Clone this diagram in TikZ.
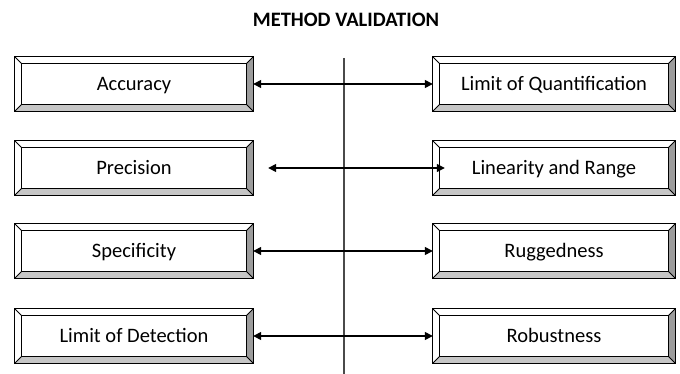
\documentclass[tikz,border=0pt]{standalone}
\usepackage{fontspec}
\setmainfont{Carlito}
\usetikzlibrary{arrows.meta}
\definecolor{bevelright}{HTML}{9C9C9C}
\definecolor{bevelbottom}{HTML}{C6C6C6}
\definecolor{midline}{HTML}{4A4A4A}
\tikzset{
  item/.style={minimum width=238pt,minimum height=54pt,inner sep=0pt},
  label/.style={font=\fontsize{20.5}{24}\selectfont,text height=13pt,text depth=0pt,inner sep=0pt},
  link/.style={{Triangle[length=8pt,width=8pt]}-{Triangle[length=8pt,width=8pt]},line width=1.4pt},
}
\newcommand{\bevelbox}[1]{%
  \fill[white] (#1.north west) rectangle (#1.south east);
  \fill[bevelright] (#1.north east) -- ([shift={(-7pt,-7pt)}]#1.north east) -- ([shift={(-7pt,7pt)}]#1.south east) -- (#1.south east) -- cycle;
  \fill[bevelbottom] (#1.south west) -- ([shift={(7pt,7pt)}]#1.south west) -- ([shift={(-7pt,7pt)}]#1.south east) -- (#1.south east) -- cycle;
  \draw[line width=0.8pt] (#1.north west) -- ([shift={(7pt,-7pt)}]#1.north west);
  \draw[line width=0.8pt] (#1.north east) -- ([shift={(-7pt,-7pt)}]#1.north east);
  \draw[line width=0.8pt] (#1.south west) -- ([shift={(7pt,7pt)}]#1.south west);
  \draw[line width=0.8pt] (#1.south east) -- ([shift={(-7pt,7pt)}]#1.south east);
  \draw[line width=1.1pt] (#1.north west) rectangle (#1.south east);
  \draw[line width=1.1pt] ([shift={(7pt,-7pt)}]#1.north west) rectangle ([shift={(-7pt,7pt)}]#1.south east);
}
\begin{document}
\begin{tikzpicture}[x=1pt,y=-1pt]
    \useasboundingbox (0,0) rectangle (680,374);
    \node[label,font=\fontsize{20.5}{24}\selectfont\bfseries] (title) at (346,20) {METHOD VALIDATION};
    \coordinate (top) at (344,58);
    \coordinate (bottom) at (344,374);
    \draw[color=midline,line width=1.3pt] (top) -- (bottom);
    \node[item] (acc) at (134,84) {};
    \node[item] (pre) at (134,168) {};
    \node[item] (spe) at (134,251) {};
    \node[item] (lod) at (134,336) {};
    \node[item,minimum width=242pt] (loq) at (554,84) {};
    \node[item,minimum width=242pt] (lin) at (554,168) {};
    \node[item,minimum width=242pt] (rug) at (554,251) {};
    \node[item,minimum width=242pt] (rob) at (554,336) {};
    \foreach \b in {acc,pre,spe,lod,loq,lin,rug,rob} {\bevelbox{\b}}
    \node[label] at (acc) {Accuracy};
    \node[label] at (pre) {Precision};
    \node[label] at (spe) {Specificity};
    \node[label] at (lod) {Limit of Detection};
    \node[label] at (loq) {Limit of Quantification};
    \node[label] at (lin) {Linearity and Range};
    \node[label] at (rug) {Ruggedness};
    \node[label] at (rob) {Robustness};
    \draw[link] (acc.east) -- (loq.west);
    \draw[link] ([xshift=15pt]pre.east) -- ([xshift=12pt]lin.west);
    \draw[link] (spe.east) -- (rug.west);
    \draw[link] (lod.east) -- (rob.west);
\end{tikzpicture}
\end{document}
